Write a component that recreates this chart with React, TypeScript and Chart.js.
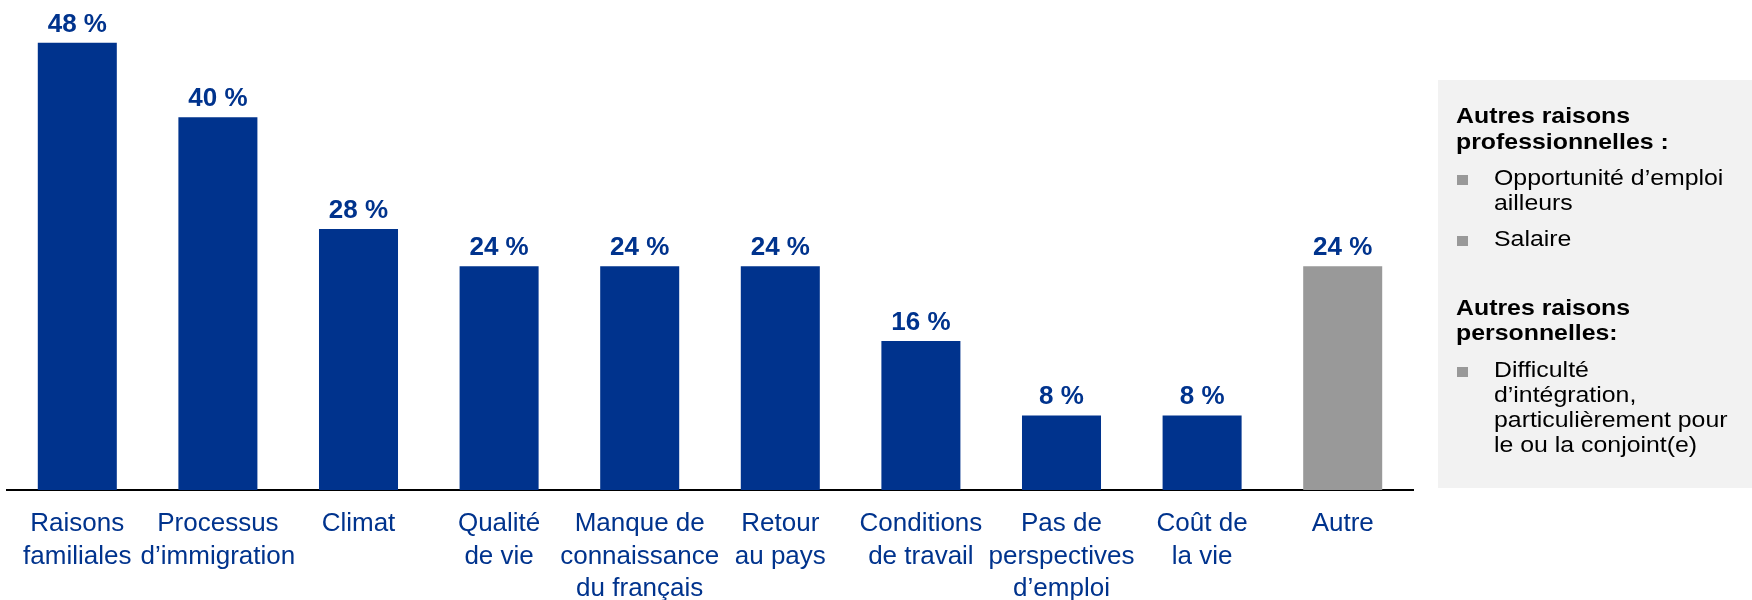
import React, { useEffect, useRef } from "react";
import { Chart, registerables } from "chart.js";

Chart.register(...registerables);

const FONT = '"Liberation Sans", Arial, Helvetica, sans-serif';
const BLUE = "#00338D";
const GRAY = "#999999";

const categories: string[][] = [
  ["Raisons", "familiales"],
  ["Processus", "d’immigration"],
  ["Climat"],
  ["Qualité", "de vie"],
  ["Manque de", "connaissance", "du français"],
  ["Retour", "au pays"],
  ["Conditions", "de travail"],
  ["Pas de", "perspectives", "d’emploi"],
  ["Coût de", "la vie"],
  ["Autre"],
];

const values: number[] = [48, 40, 28, 24, 24, 24, 16, 8, 8, 24];

const barColors: string[] = [BLUE, BLUE, BLUE, BLUE, BLUE, BLUE, BLUE, BLUE, BLUE, GRAY];

type PanelLine = { text: string; bold?: boolean; bullet?: boolean; indent?: boolean; y: number };

const panelLines: PanelLine[] = [
  { text: "Autres raisons", bold: true, y: 123 },
  { text: "professionnelles :", bold: true, y: 149 },
  { text: "Opportunité d’emploi", bullet: true, indent: true, y: 185 },
  { text: "ailleurs", indent: true, y: 210 },
  { text: "Salaire", bullet: true, indent: true, y: 246 },
  { text: "Autres raisons", bold: true, y: 315 },
  { text: "personnelles:", bold: true, y: 340 },
  { text: "Difficulté", bullet: true, indent: true, y: 377 },
  { text: "d’intégration,", indent: true, y: 402 },
  { text: "particulièrement pour", indent: true, y: 427 },
  { text: "le ou la conjoint(e)", indent: true, y: 452 },
];

const valueLabelPlugin = {
  id: "valueLabels",
  afterDatasetsDraw(chart: any) {
    const ctx = chart.ctx as CanvasRenderingContext2D;
    const meta = chart.getDatasetMeta(0);
    ctx.save();
    ctx.font = `bold 26px ${FONT}`;
    ctx.fillStyle = BLUE;
    ctx.textAlign = "center";
    ctx.textBaseline = "alphabetic";
    meta.data.forEach((bar: any, i: number) => {
      ctx.fillText(`${values[i]} %`, bar.x, bar.y - 11);
    });
    ctx.restore();
  },
};

const panelPlugin = {
  id: "sidePanel",
  beforeDraw(chart: any) {
    const ctx = chart.ctx as CanvasRenderingContext2D;
    const left = chart.chartArea.right + 25;
    const right = chart.width;
    const top = 80;
    const bottom = 488;
    ctx.save();
    ctx.fillStyle = "#F2F2F2";
    ctx.fillRect(left, top, right - left, bottom - top);
    ctx.textBaseline = "alphabetic";
    ctx.textAlign = "left";
    panelLines.forEach((ln) => {
      if (ln.bullet) {
        ctx.fillStyle = GRAY;
        ctx.fillRect(left + 19, ln.y - 10, 11, 10);
      }
      ctx.fillStyle = "#000000";
      ctx.font = `${ln.bold ? "bold " : ""}22px ${FONT}`;
      const x = left + (ln.indent ? 56 : 18);
      ctx.save();
      ctx.translate(x, ln.y);
      ctx.scale(1.13, 1);
      ctx.fillText(ln.text, 0, 0);
      ctx.restore();
    });
    ctx.restore();
  },
};

export default function App() {
  const canvasRef = useRef<HTMLCanvasElement | null>(null);

  useEffect(() => {
    if (!canvasRef.current) return;
    const chart = new Chart(canvasRef.current, {
      type: "bar",
      data: {
        labels: categories,
        datasets: [
          {
            data: values,
            backgroundColor: barColors,
            borderWidth: 0,
            barPercentage: 0.562,
            categoryPercentage: 1,
          },
        ],
      },
      options: {
        responsive: false,
        animation: false,
        devicePixelRatio: 1,
        layout: { padding: { left: 7, right: 339, top: 24, bottom: 0 } },
        plugins: {
          legend: { display: false },
          tooltip: { enabled: false },
        },
        scales: {
          x: {
            grid: { display: false, drawTicks: false },
            border: { display: true, color: "#000000", width: 2 },
            ticks: {
              color: BLUE,
              font: { family: FONT, size: 26, lineHeight: 1.24 },
              padding: 18,
              maxRotation: 0,
              autoSkip: false,
            },
            afterFit(scale: any) {
              scale.height = 110;
            },
          },
          y: {
            display: false,
            min: 0,
            max: 50,
          },
        },
      },
      plugins: [panelPlugin, valueLabelPlugin],
    });
    return () => chart.destroy();
  }, []);

  return (
    <div style={{ position: "absolute", left: 0, top: 0, width: 1752, height: 600, background: "#ffffff" }}>
      <canvas ref={canvasRef} width={1752} height={600} style={{ display: "block", width: 1752, height: 600 }} />
    </div>
  );
}
